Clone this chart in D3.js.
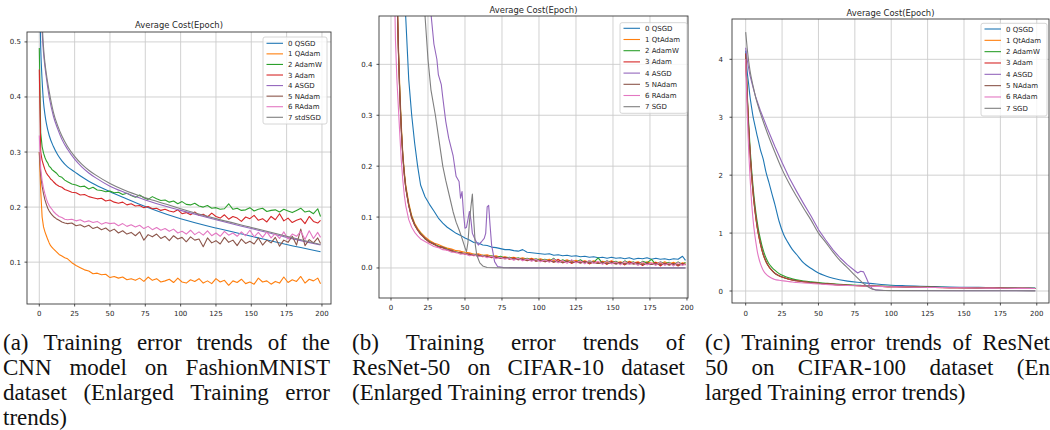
<!DOCTYPE html>
<html>
<head>
<meta charset="utf-8">
<script src="https://cdn.jsdelivr.net/npm/d3@7"></script>
<style>
body { margin: 0; background: #fff; }
svg { display: block; }
</style>
</head>
<body>
<svg id="fig" width="1050" height="430"></svg>
<script>
// ---- data ----
var colors = ["#1f77b4","#ff7f0e","#2ca02c","#d62728","#9467bd","#8c564b","#e377c2","#7f7f7f"];
var namesA = ["0 QSGD","1 QAdam","2 AdamW","3 Adam","4 ASGD","5 NAdam","6 RAdam","7 stdSGD"];
var namesB = ["0 QSGD","1 QtAdam","2 AdamW","3 Adam","4 ASGD","5 NAdam","6 RAdam","7 SGD"];
var namesC = ["0 QSGD","1 QtAdam","2 AdamW","3 Adam","4 ASGD","5 NAdam","6 RAdam","7 SGD"];
var xTicks = [0,25,50,75,100,125,150,175,200];

// epochs used for the noisy curves
var epochsDense = [0,1,2,3,4,5,6,7,8,9,10,12,14,16,18,20,23,26,29,32,35,38,41,44,47,50,53,56,59,62,65,68,71,74,77,80,83,86,89,92,95,98,101,104,107,110,113,116,119,122,125,128,131,134,137,140,143,146,149,152,155,158,161,164,167,170,173,176,179,182,185,188,191,194,197,199];

// (a) FashionMNIST
var epochsSmoothA = [0,1,2,3,4,5,7,10,13,16,20,25,30,35,40,50,60,75,90,100,125,150,175,199];
var qsgdA = [0.62,0.49,0.43,0.39,0.368,0.352,0.33,0.31,0.295,0.284,0.273,0.264,0.255,0.247,0.24,0.228,0.217,0.201,0.187,0.179,0.162,0.147,0.132,0.119];
var asgdA = [1.0,0.6,0.52,0.48,0.455,0.435,0.4,0.365,0.342,0.323,0.305,0.287,0.273,0.262,0.253,0.238,0.227,0.213,0.201,0.194,0.177,0.161,0.145,0.131];
var sgdA  = [1.1,0.65,0.54,0.49,0.462,0.442,0.41,0.372,0.348,0.329,0.31,0.292,0.278,0.267,0.258,0.243,0.231,0.217,0.205,0.197,0.179,0.163,0.147,0.132];
var qadamA = [0.30,0.23,0.182,0.164,0.155,0.148,0.141,0.135,0.13,0.127,0.124,0.119,0.114,0.111,0.108,
  0.106,0.099,0.094,0.09,0.086,0.084,0.079,0.08,0.077,0.078,
  0.072,0.074,0.071,0.073,0.068,0.07,0.067,0.071,0.065,0.073,
  0.067,0.07,0.064,0.066,0.069,0.063,0.071,0.064,0.062,0.068,
  0.065,0.07,0.062,0.066,0.061,0.07,0.064,0.067,0.058,0.066,
  0.063,0.069,0.061,0.064,0.06,0.071,0.064,0.066,0.06,0.065,
  0.062,0.073,0.063,0.068,0.065,0.074,0.062,0.069,0.066,0.071,0.061];
var adamwA = [0.489,0.335,0.31,0.298,0.29,0.284,0.28,0.274,0.272,0.268,0.266,0.262,0.256,0.254,0.249,
  0.246,0.242,0.24,0.237,0.238,0.233,0.236,0.231,0.23,0.228,
  0.229,0.226,0.227,0.223,0.225,0.221,0.218,0.222,0.217,0.214,
  0.219,0.215,0.212,0.213,0.209,0.211,0.206,0.21,0.205,0.204,
  0.207,0.202,0.2,0.203,0.198,0.199,0.196,0.197,0.206,0.196,
  0.198,0.194,0.195,0.199,0.193,0.196,0.198,0.192,0.194,0.195,
  0.191,0.196,0.193,0.19,0.194,0.198,0.191,0.193,0.188,0.197,0.183];
var adamA = [0.45,0.30,0.285,0.276,0.268,0.262,0.258,0.255,0.251,0.249,0.246,0.241,0.238,0.236,0.232,
  0.23,0.227,0.226,0.222,0.223,0.219,0.217,0.215,0.216,0.211,
  0.213,0.209,0.207,0.209,0.204,0.206,0.202,0.203,0.199,0.201,
  0.197,0.198,0.194,0.196,0.193,0.191,0.195,0.188,0.19,0.186,
  0.191,0.185,0.187,0.182,0.189,0.183,0.18,0.186,0.178,0.183,
  0.18,0.174,0.182,0.179,0.185,0.176,0.179,0.173,0.183,0.177,
  0.188,0.175,0.18,0.172,0.176,0.179,0.17,0.183,0.174,0.171,0.176];
var nadamA = [0.30,0.258,0.238,0.224,0.213,0.205,0.198,0.193,0.189,0.186,0.183,0.179,0.176,0.173,0.171,
  0.17,0.171,0.166,0.168,0.164,0.167,0.161,0.164,0.159,0.162,
  0.156,0.16,0.153,0.157,0.151,0.154,0.148,0.155,0.14,0.15,
  0.146,0.151,0.143,0.147,0.139,0.148,0.142,0.145,0.137,0.146,
  0.14,0.142,0.128,0.144,0.135,0.139,0.133,0.145,0.136,0.14,
  0.13,0.142,0.134,0.138,0.133,0.144,0.131,0.14,0.135,0.145,
  0.129,0.14,0.136,0.147,0.131,0.16,0.13,0.141,0.135,0.144,0.134];
var radamA = [0.33,0.27,0.248,0.234,0.224,0.215,0.208,0.203,0.199,0.196,0.192,0.187,0.183,0.181,0.178,
  0.177,0.178,0.175,0.177,0.173,0.175,0.172,0.174,0.169,0.172,
  0.17,0.171,0.166,0.17,0.165,0.168,0.164,0.167,0.161,0.165,
  0.159,0.163,0.158,0.161,0.156,0.16,0.153,0.156,0.151,0.158,
  0.15,0.155,0.149,0.157,0.148,0.153,0.147,0.156,0.149,0.153,
  0.147,0.155,0.148,0.158,0.146,0.154,0.145,0.155,0.144,0.152,
  0.143,0.155,0.142,0.151,0.147,0.156,0.141,0.157,0.143,0.154,0.145];

// (b) CIFAR-10
var qsgdB = [2.3,1.9,1.6,1.35,1.15,0.98,0.84,0.72,0.62,0.55,0.49,0.37,0.3,0.245,0.2,
  0.163,0.14,0.125,0.112,0.098,0.088,0.08,0.074,0.068,0.064,
  0.059,0.055,0.05,0.049,0.045,0.044,0.041,0.04,0.038,0.036,
  0.036,0.034,0.033,0.036,0.031,0.03,0.029,0.028,0.027,0.028,
  0.025,0.026,0.024,0.025,0.023,0.024,0.022,0.023,0.021,0.022,
  0.02,0.021,0.019,0.021,0.019,0.02,0.018,0.02,0.017,0.019,
  0.018,0.02,0.017,0.019,0.017,0.018,0.016,0.018,0.017,0.023,0.015];
var qtadamB = [2.3,1.6,1.1,0.78,0.56,0.44,0.35,0.28,0.225,0.19,0.163,0.128,0.103,0.088,0.078,
  0.07,0.061,0.054,0.049,0.046,0.042,0.039,0.037,0.034,0.033,
  0.031,0.03,0.027,0.028,0.025,0.026,0.023,0.024,0.021,0.022,
  0.02,0.021,0.018,0.02,0.017,0.019,0.016,0.018,0.015,0.017,
  0.014,0.016,0.013,0.016,0.012,0.015,0.012,0.014,0.011,0.014,
  0.01,0.013,0.011,0.014,0.01,0.012,0.009,0.013,0.01,0.012,
  0.008,0.012,0.009,0.011,0.008,0.012,0.008,0.011,0.007,0.01,0.009];
var adamwB = [2.3,1.6,1.1,0.77,0.55,0.43,0.34,0.272,0.22,0.185,0.158,0.124,0.1,0.085,0.075,
  0.068,0.057,0.052,0.046,0.043,0.04,0.037,0.033,0.032,0.029,
  0.029,0.026,0.027,0.023,0.025,0.022,0.024,0.02,0.023,0.019,
  0.021,0.017,0.02,0.016,0.019,0.015,0.018,0.014,0.017,0.013,
  0.019,0.011,0.016,0.012,0.015,0.011,0.016,0.01,0.014,0.011,
  0.02,0.009,0.014,0.01,0.013,0.008,0.014,0.009,0.012,0.007,
  0.013,0.01,0.017,0.007,0.012,0.008,0.011,0.006,0.012,0.007,0.011];
var adamB = [2.3,1.6,1.08,0.76,0.55,0.425,0.335,0.268,0.218,0.182,0.156,0.122,0.098,0.084,0.074,
  0.066,0.058,0.05,0.047,0.041,0.04,0.035,0.034,0.03,0.031,
  0.027,0.028,0.024,0.026,0.022,0.024,0.02,0.022,0.019,0.021,
  0.017,0.02,0.016,0.018,0.014,0.018,0.013,0.016,0.012,0.015,
  0.011,0.017,0.01,0.014,0.009,0.013,0.01,0.013,0.008,0.012,
  0.009,0.012,0.007,0.013,0.008,0.011,0.006,0.012,0.008,0.011,
  0.005,0.01,0.007,0.011,0.004,0.01,0.006,0.009,0.004,0.009,0.006];
var nadamB = [2.3,1.6,1.09,0.765,0.55,0.428,0.338,0.27,0.22,0.184,0.157,0.123,0.099,0.085,0.075,
  0.067,0.059,0.051,0.048,0.042,0.041,0.036,0.035,0.031,0.03,
  0.028,0.027,0.025,0.025,0.023,0.023,0.021,0.021,0.019,0.02,
  0.018,0.018,0.016,0.017,0.015,0.016,0.014,0.015,0.013,0.014,
  0.012,0.013,0.011,0.013,0.011,0.012,0.01,0.012,0.01,0.011,
  0.009,0.011,0.009,0.01,0.008,0.01,0.008,0.009,0.008,0.009,
  0.007,0.009,0.007,0.008,0.007,0.008,0.006,0.008,0.006,0.007,0.007];
var radamB = [2.0,1.1,0.62,0.45,0.37,0.315,0.26,0.21,0.172,0.143,0.122,0.095,0.08,0.07,0.063,
  0.057,0.052,0.047,0.042,0.04,0.036,0.035,0.031,0.031,0.027,
  0.028,0.024,0.026,0.022,0.024,0.02,0.023,0.018,0.021,0.017,
  0.02,0.015,0.019,0.014,0.018,0.013,0.017,0.012,0.016,0.011,
  0.018,0.01,0.015,0.009,0.016,0.01,0.014,0.008,0.015,0.009,
  0.013,0.007,0.014,0.008,0.012,0.006,0.013,0.007,0.011,0.005,
  0.012,0.006,0.01,0.005,0.012,0.005,0.01,0.004,0.011,0.005,0.008];
var epochsAsgdB = [0,10,20,25,27,29,31,32,34,35,37,39,42,44,46,47,48,49,50,51,52,53,54,55,57,59,61,63,64,65,66,67,68,69,70,72,76,90,199];
var asgdB = [2.3,1.5,0.8,0.58,0.5,0.44,0.41,0.38,0.36,0.335,0.288,0.255,0.22,0.18,0.17,0.137,0.15,0.108,0.078,0.08,
  0.095,0.111,0.095,0.068,0.055,0.045,0.051,0.058,0.068,0.12,0.123,0.082,0.045,0.029,0.0125,0.003,0.0007,0.0002,0.0001];
var epochsSgdB = [0,5,10,15,20,22,23,25,27,30,32,35,37,40,42,44,46,48,50,51,52,53,54,55,56,57,58,60,62,65,70,80,100,150,199];
var sgdB = [2.3,1.8,1.3,0.95,0.65,0.54,0.495,0.41,0.35,0.3,0.26,0.2,0.172,0.135,0.11,0.09,0.075,0.058,0.04,0.032,
  0.05,0.09,0.12,0.145,0.09,0.045,0.025,0.01,0.004,0.001,0.0003,0.0001,0.00005,0.00002,0.00001];

// (c) CIFAR-100
var epochsC = [0,1,2,3,4,5,6,7,8,9,10,12,14,16,18,20,23,26,29,32,35,40,45,50,55,60,70,80,90,100,110,120,130,140,150,160,170,180,190,199];
var qsgdC = [4.15,3.8,3.58,3.35,3.18,3.02,2.9,2.78,2.67,2.56,2.45,2.28,2.05,1.87,1.68,1.5,1.2,0.98,0.84,0.72,
  0.63,0.48,0.39,0.31,0.26,0.22,0.17,0.145,0.12,0.1,0.09,0.082,0.075,0.07,0.065,0.062,0.059,0.056,0.053,0.05];
var qtadamC = [4.05,3.35,2.8,2.36,2.0,1.7,1.46,1.25,1.08,0.94,0.82,0.63,0.5,0.415,0.355,0.305,0.26,0.232,0.208,0.19,
  0.176,0.158,0.146,0.134,0.124,0.114,0.099,0.089,0.081,0.074,0.069,0.065,0.061,0.057,0.054,0.051,0.049,0.047,0.045,0.043];
var adamwC = [4.1,3.45,2.92,2.48,2.12,1.82,1.57,1.36,1.18,1.03,0.91,0.71,0.57,0.47,0.41,0.36,0.3,0.262,0.232,0.21,
  0.193,0.173,0.158,0.145,0.134,0.123,0.107,0.096,0.087,0.08,0.074,0.069,0.065,0.061,0.058,0.055,0.052,0.05,0.048,0.046];
var adamC = [4.1,3.4,2.85,2.4,2.04,1.74,1.49,1.28,1.1,0.96,0.84,0.64,0.51,0.42,0.36,0.31,0.265,0.235,0.21,0.19,
  0.177,0.16,0.148,0.135,0.125,0.115,0.1,0.09,0.082,0.075,0.07,0.066,0.062,0.058,0.055,0.052,0.05,0.048,0.046,0.044];
var nadamC = [4.08,3.38,2.83,2.38,2.02,1.72,1.47,1.27,1.09,0.95,0.83,0.635,0.505,0.418,0.357,0.307,0.262,0.233,0.209,0.19,
  0.176,0.159,0.147,0.134,0.124,0.114,0.1,0.09,0.082,0.075,0.07,0.066,0.062,0.058,0.055,0.052,0.05,0.048,0.046,0.044];
var radamC = [4.0,3.1,2.45,1.95,1.55,1.25,1.02,0.84,0.68,0.57,0.48,0.36,0.29,0.25,0.22,0.2,0.185,0.175,0.165,0.155,
  0.148,0.138,0.129,0.12,0.113,0.106,0.095,0.087,0.08,0.073,0.068,0.064,0.06,0.057,0.054,0.051,0.049,0.047,0.045,0.043];
var epochsAsgdC = [0,1,2,3,5,7,10,15,20,25,30,35,40,45,50,55,60,65,70,75,77,79,81,83,85,87,89,95,100,150,199];
var asgdC = [4.2,4.0,3.85,3.72,3.52,3.34,3.12,2.8,2.5,2.22,1.95,1.72,1.5,1.29,1.06,0.88,0.71,0.57,0.45,0.35,
  0.31,0.34,0.33,0.22,0.1,0.04,0.02,0.01,0.008,0.005,0.004];
var epochsSgdC = [0,1,2,3,5,7,10,15,20,25,30,35,40,45,50,55,60,65,70,75,80,83,86,88,92,100,150,199];
var sgdC = [4.47,4.2,3.98,3.8,3.55,3.33,3.08,2.72,2.4,2.1,1.85,1.63,1.42,1.22,1.0,0.84,0.67,0.52,0.4,0.27,
  0.15,0.09,0.045,0.025,0.012,0.006,0.004,0.003];

// captions
var captionA = ["(a) Training error trends of the","CNN model on FashionMNIST","dataset (Enlarged Training error","trends)"];
var captionB = ["(b) Training error trends of","ResNet-50 on CIFAR-10 dataset","(Enlarged Training error trends)"];
var captionC = ["(c) Training error trends of ResNet","50 on CIFAR-100 dataset (En","larged Training error trends)"];

// ---- layout ----
function ser(xs, ys, smooth) { return {xs: xs, ys: ys, smooth: smooth}; }

var panels = [
  {left:27, right:331, top:32, bottom:304, xDomain:[-8.7,206.4], yDomain:[0.024,0.518],
   yTicks:[0.1,0.2,0.3,0.4,0.5], yFmt:d3.format(".1f"), titleY:28, xLabY:316, yLabGap:6,
   names:namesA, legend:{x:263, y:37, w:64, h:87, first:6.3, dy:10.57},
   series:[ser(epochsSmoothA,qsgdA,true), ser(epochsDense,qadamA,false), ser(epochsDense,adamwA,false),
           ser(epochsDense,adamA,false), ser(epochsSmoothA,asgdA,true), ser(epochsDense,nadamA,false),
           ser(epochsDense,radamA,false), ser(epochsSmoothA,sgdA,true)]},
  {left:379, right:688, top:16, bottom:298, xDomain:[-8.1,200.7], yDomain:[-0.059,0.495],
   yTicks:[0,0.1,0.2,0.3,0.4], yFmt:d3.format(".1f"), titleY:13, xLabY:309.5, yLabGap:6.5,
   names:namesB, legend:{x:620, y:22.7, w:67, h:90.6, first:5.6, dy:11.2},
   series:[ser(epochsDense,qsgdB,false), ser(epochsDense,qtadamB,false), ser(epochsDense,adamwB,false),
           ser(epochsDense,adamB,false), ser(epochsAsgdB,asgdB,false), ser(epochsDense,nadamB,false),
           ser(epochsDense,radamB,false), ser(epochsSgdB,sgdB,false)]},
  {left:732, right:1049, top:19, bottom:303, xDomain:[-9.4,208.4], yDomain:[-0.207,4.696],
   yTicks:[0,1,2,3,4], yFmt:d3.format("d"), titleY:15.5, xLabY:315.5, yLabGap:9,
   names:namesC, legend:{x:981, y:23.3, w:66, h:92.7, first:5.7, dy:11.33},
   series:[ser(epochsC,qsgdC,true), ser(epochsC,qtadamC,true), ser(epochsC,adamwC,true),
           ser(epochsC,adamC,true), ser(epochsAsgdC,asgdC,false), ser(epochsC,nadamC,true),
           ser(epochsC,radamC,true), ser(epochsSgdC,sgdC,true)]}
];

var svg = d3.select("#fig");
var tickFont = "'DejaVu Sans', sans-serif";
var ink = "#262626";

panels.forEach(function(p, pi) {
  var x = d3.scaleLinear().domain(p.xDomain).range([p.left, p.right]);
  var y = d3.scaleLinear().domain(p.yDomain).range([p.bottom, p.top]);
  var g = svg.append("g");

  g.append("clipPath").attr("id", "clip" + pi)
    .append("rect").attr("x", p.left).attr("y", p.top)
    .attr("width", p.right - p.left).attr("height", p.bottom - p.top);

  // grid
  g.selectAll(".gx").data(xTicks).enter().append("line")
    .attr("x1", function(d){return x(d);}).attr("x2", function(d){return x(d);})
    .attr("y1", p.top).attr("y2", p.bottom)
    .style("stroke", "#cccccc").style("stroke-width", 0.9);
  g.selectAll(".gy").data(p.yTicks).enter().append("line")
    .attr("x1", p.left).attr("x2", p.right)
    .attr("y1", function(d){return y(d);}).attr("y2", function(d){return y(d);})
    .style("stroke", "#cccccc").style("stroke-width", 0.9);

  // curves
  var lines = g.append("g").attr("clip-path", "url(#clip" + pi + ")");
  p.series.forEach(function(s, i) {
    var pts = s.xs.map(function(e, k){ return [e, s.ys[k]]; })
                  .filter(function(d){ return d[1] != null; });
    var line = d3.line()
      .x(function(d){return x(d[0]);})
      .y(function(d){return y(d[1]);})
      .curve(s.smooth ? d3.curveMonotoneX : d3.curveLinear);
    lines.append("path").attr("d", line(pts))
      .style("fill", "none").style("stroke", colors[i])
      .style("stroke-width", 1.1).style("stroke-linejoin", "round");
  });

  // frame
  g.append("rect").attr("x", p.left).attr("y", p.top)
    .attr("width", p.right - p.left).attr("height", p.bottom - p.top)
    .style("fill", "none").style("stroke", "#3a3a3a").style("stroke-width", 0.9);

  // ticks + labels
  g.selectAll(".tx").data(xTicks).enter().append("line")
    .attr("x1", function(d){return x(d);}).attr("x2", function(d){return x(d);})
    .attr("y1", p.bottom).attr("y2", p.bottom + 2.5).style("stroke", ink).style("stroke-width", 0.8);
  g.selectAll(".lx").data(xTicks).enter().append("text")
    .attr("x", function(d){return x(d);}).attr("y", p.xLabY)
    .attr("text-anchor", "middle").style("font-family", tickFont).style("font-size", "7px")
    .style("fill", ink).text(function(d){return d;});
  g.selectAll(".ty").data(p.yTicks).enter().append("line")
    .attr("x1", p.left - 2.5).attr("x2", p.left)
    .attr("y1", function(d){return y(d);}).attr("y2", function(d){return y(d);})
    .style("stroke", ink).style("stroke-width", 0.8);
  g.selectAll(".ly").data(p.yTicks).enter().append("text")
    .attr("x", p.left - p.yLabGap).attr("y", function(d){return y(d) + 2.5;})
    .attr("text-anchor", "end").style("font-family", tickFont).style("font-size", "7px")
    .style("fill", ink).text(function(d){return p.yFmt(d);});

  // title
  g.append("text").attr("x", (p.left + p.right) / 2).attr("y", p.titleY)
    .attr("text-anchor", "middle").style("font-family", tickFont).style("font-size", "8.4px")
    .style("fill", ink).text("Average Cost(Epoch)");

  // legend
  var L = p.legend;
  var lg = g.append("g");
  lg.append("rect").attr("x", L.x).attr("y", L.y).attr("width", L.w).attr("height", L.h)
    .attr("rx", 2).style("fill", "#fff").style("fill-opacity", 0.8)
    .style("stroke", "#cccccc").style("stroke-width", 0.8);
  var items = lg.selectAll(".item").data(p.names).enter().append("g")
    .attr("transform", function(d, i){ return "translate(0," + (L.y + L.first + i * L.dy) + ")"; });
  items.append("line").attr("x1", L.x + 3.5).attr("x2", L.x + 20)
    .style("stroke", function(d, i){return colors[i];}).style("stroke-width", 1.1);
  items.append("text").attr("x", L.x + 25).attr("y", 2.5)
    .style("font-family", tickFont).style("font-size", "7px").style("fill", ink)
    .text(function(d){return d;});
});

// captions, justified like the paper
var captions = [{x:3, w:327, lines:captionA}, {x:352, w:333, lines:captionB}, {x:705, w:345, lines:captionC}];
var capFont = "'Liberation Serif', 'Times New Roman', serif";
captions.forEach(function(c) {
  c.lines.forEach(function(txt, li) {
    var base = 350 + li * 25;
    var words = txt.split(" ");
    var last = li === c.lines.length - 1;
    var tg = svg.append("g");
    var nodes = words.map(function(w) {
      return tg.append("text").attr("y", base)
        .style("font-family", capFont).style("font-size", "23px").style("fill", "#111").text(w);
    });
    var widths = nodes.map(function(n){ return n.node().getComputedTextLength(); });
    var sum = d3.sum(widths);
    var gap = last || words.length < 2 ? 5.5 : (c.w - sum) / (words.length - 1);
    var cx = c.x;
    nodes.forEach(function(n, k) {
      n.attr("x", cx);
      cx += widths[k] + gap;
    });
  });
});
</script>
</body>
</html>
